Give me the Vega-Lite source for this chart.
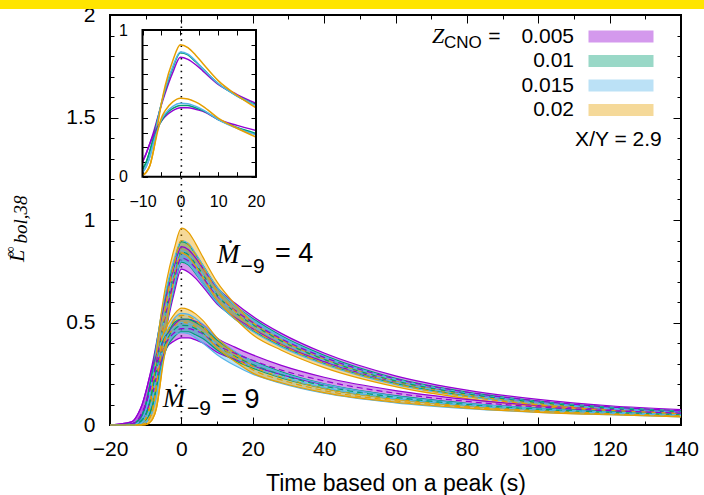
{
"$schema": "https://vega.github.io/schema/vega-lite/v6.json",
"width": 571, "height": 410,
"autosize": {"type": "none"},
"padding": {"left": 110, "top": 15, "right": 23, "bottom": 70},
"background": "white",
"config": {
  "view": {"stroke": "black", "strokeWidth": 2},
  "axis": {"domain": false, "grid": false, "labelFlush": false, "labelOverlap": false, "tickColor": "black", "tickWidth": 1, "labelColor": "black", "labelFont": "Liberation Sans", "labelFontSize": 21, "titleFont": "Liberation Sans", "titleFontSize": 23, "titleFontWeight": "normal", "titleColor": "black"}
},
"datasets": {"b": [
{"M":"4","Z":"0.005","t":-20,"lo":0,"mid":0,"hi":0},{"M":"4","Z":"0.005","t":-14,"lo":0,"mid":0.005,"hi":0.015},{"M":"4","Z":"0.005","t":-12,"lo":0.015,"mid":0.03,"hi":0.06},{"M":"4","Z":"0.005","t":-11,"lo":0.03,"mid":0.06,"hi":0.1},{"M":"4","Z":"0.005","t":-10,"lo":0.06,"mid":0.1,"hi":0.16},{"M":"4","Z":"0.005","t":-9,"lo":0.1,"mid":0.16,"hi":0.23},{"M":"4","Z":"0.005","t":-8,"lo":0.16,"mid":0.23,"hi":0.31},{"M":"4","Z":"0.005","t":-7,"lo":0.23,"mid":0.31,"hi":0.4},{"M":"4","Z":"0.005","t":-6,"lo":0.31,"mid":0.4,"hi":0.49},{"M":"4","Z":"0.005","t":-5,"lo":0.4,"mid":0.49,"hi":0.57},{"M":"4","Z":"0.005","t":-4,"lo":0.49,"mid":0.57,"hi":0.645},{"M":"4","Z":"0.005","t":-2,"lo":0.645,"mid":0.71,"hi":0.77},{"M":"4","Z":"0.005","t":0,"lo":0.76,"mid":0.815,"hi":0.87},{"M":"4","Z":"0.005","t":2,"lo":0.745,"mid":0.8,"hi":0.855},{"M":"4","Z":"0.005","t":4,"lo":0.715,"mid":0.765,"hi":0.815},{"M":"4","Z":"0.005","t":6,"lo":0.675,"mid":0.72,"hi":0.765},{"M":"4","Z":"0.005","t":10,"lo":0.59,"mid":0.63,"hi":0.67},{"M":"4","Z":"0.005","t":15,"lo":0.525,"mid":0.56,"hi":0.595},{"M":"4","Z":"0.005","t":20,"lo":0.47,"mid":0.5,"hi":0.53},{"M":"4","Z":"0.005","t":28,"lo":0.393,"mid":0.42,"hi":0.447},{"M":"4","Z":"0.005","t":40,"lo":0.309,"mid":0.33,"hi":0.351},{"M":"4","Z":"0.005","t":60,"lo":0.21,"mid":0.225,"hi":0.24},{"M":"4","Z":"0.005","t":80,"lo":0.15,"mid":0.16,"hi":0.17},{"M":"4","Z":"0.005","t":100,"lo":0.109,"mid":0.117,"hi":0.125},{"M":"4","Z":"0.005","t":120,"lo":0.082,"mid":0.088,"hi":0.094},{"M":"4","Z":"0.005","t":140,"lo":0.065,"mid":0.07,"hi":0.075},
{"M":"4","Z":"0.01","t":-20,"lo":0,"mid":0,"hi":0},{"M":"4","Z":"0.01","t":-14,"lo":0,"mid":0,"hi":0.004},{"M":"4","Z":"0.01","t":-12,"lo":0.004,"mid":0.01,"hi":0.025},{"M":"4","Z":"0.01","t":-11,"lo":0.01,"mid":0.025,"hi":0.05},{"M":"4","Z":"0.01","t":-10,"lo":0.025,"mid":0.05,"hi":0.1},{"M":"4","Z":"0.01","t":-9,"lo":0.05,"mid":0.1,"hi":0.18},{"M":"4","Z":"0.01","t":-8,"lo":0.1,"mid":0.18,"hi":0.28},{"M":"4","Z":"0.01","t":-7,"lo":0.18,"mid":0.28,"hi":0.39},{"M":"4","Z":"0.01","t":-6,"lo":0.28,"mid":0.39,"hi":0.5},{"M":"4","Z":"0.01","t":-5,"lo":0.39,"mid":0.5,"hi":0.59},{"M":"4","Z":"0.01","t":-4,"lo":0.5,"mid":0.59,"hi":0.67},{"M":"4","Z":"0.01","t":-2,"lo":0.67,"mid":0.74,"hi":0.8},{"M":"4","Z":"0.01","t":0,"lo":0.795,"mid":0.845,"hi":0.895},{"M":"4","Z":"0.01","t":2,"lo":0.78,"mid":0.83,"hi":0.88},{"M":"4","Z":"0.01","t":4,"lo":0.738,"mid":0.785,"hi":0.832},{"M":"4","Z":"0.01","t":6,"lo":0.69,"mid":0.735,"hi":0.78},{"M":"4","Z":"0.01","t":10,"lo":0.597,"mid":0.635,"hi":0.673},{"M":"4","Z":"0.01","t":15,"lo":0.517,"mid":0.55,"hi":0.583},{"M":"4","Z":"0.01","t":20,"lo":0.46,"mid":0.49,"hi":0.52},{"M":"4","Z":"0.01","t":28,"lo":0.385,"mid":0.41,"hi":0.435},{"M":"4","Z":"0.01","t":40,"lo":0.3,"mid":0.32,"hi":0.34},{"M":"4","Z":"0.01","t":60,"lo":0.202,"mid":0.215,"hi":0.228},{"M":"4","Z":"0.01","t":80,"lo":0.143,"mid":0.152,"hi":0.161},{"M":"4","Z":"0.01","t":100,"lo":0.103,"mid":0.11,"hi":0.117},{"M":"4","Z":"0.01","t":120,"lo":0.077,"mid":0.082,"hi":0.087},{"M":"4","Z":"0.01","t":140,"lo":0.06,"mid":0.064,"hi":0.068},
{"M":"4","Z":"0.015","t":-20,"lo":0,"mid":0,"hi":0},{"M":"4","Z":"0.015","t":-14,"lo":0,"mid":0,"hi":0},{"M":"4","Z":"0.015","t":-12,"lo":0,"mid":0.003,"hi":0.012},{"M":"4","Z":"0.015","t":-11,"lo":0.003,"mid":0.012,"hi":0.03},{"M":"4","Z":"0.015","t":-10,"lo":0.012,"mid":0.03,"hi":0.07},{"M":"4","Z":"0.015","t":-9,"lo":0.03,"mid":0.07,"hi":0.14},{"M":"4","Z":"0.015","t":-8,"lo":0.07,"mid":0.14,"hi":0.25},{"M":"4","Z":"0.015","t":-7,"lo":0.14,"mid":0.25,"hi":0.38},{"M":"4","Z":"0.015","t":-6,"lo":0.25,"mid":0.38,"hi":0.5},{"M":"4","Z":"0.015","t":-5,"lo":0.38,"mid":0.5,"hi":0.6},{"M":"4","Z":"0.015","t":-4,"lo":0.5,"mid":0.6,"hi":0.68},{"M":"4","Z":"0.015","t":-2,"lo":0.68,"mid":0.75,"hi":0.81},{"M":"4","Z":"0.015","t":0,"lo":0.8,"mid":0.85,"hi":0.9},{"M":"4","Z":"0.015","t":2,"lo":0.785,"mid":0.835,"hi":0.885},{"M":"4","Z":"0.015","t":4,"lo":0.743,"mid":0.79,"hi":0.837},{"M":"4","Z":"0.015","t":6,"lo":0.69,"mid":0.735,"hi":0.78},{"M":"4","Z":"0.015","t":10,"lo":0.597,"mid":0.635,"hi":0.673},{"M":"4","Z":"0.015","t":15,"lo":0.517,"mid":0.55,"hi":0.583},{"M":"4","Z":"0.015","t":20,"lo":0.456,"mid":0.485,"hi":0.514},{"M":"4","Z":"0.015","t":28,"lo":0.38,"mid":0.405,"hi":0.43},{"M":"4","Z":"0.015","t":40,"lo":0.296,"mid":0.315,"hi":0.334},{"M":"4","Z":"0.015","t":60,"lo":0.197,"mid":0.21,"hi":0.223},{"M":"4","Z":"0.015","t":80,"lo":0.138,"mid":0.147,"hi":0.156},{"M":"4","Z":"0.015","t":100,"lo":0.1,"mid":0.106,"hi":0.112},{"M":"4","Z":"0.015","t":120,"lo":0.074,"mid":0.079,"hi":0.084},{"M":"4","Z":"0.015","t":140,"lo":0.057,"mid":0.061,"hi":0.065},
{"M":"4","Z":"0.02","t":-20,"lo":0,"mid":0,"hi":0},{"M":"4","Z":"0.02","t":-14,"lo":0,"mid":0,"hi":0},{"M":"4","Z":"0.02","t":-12,"lo":0,"mid":0,"hi":0.002},{"M":"4","Z":"0.02","t":-11,"lo":0,"mid":0.002,"hi":0.01},{"M":"4","Z":"0.02","t":-10,"lo":0.002,"mid":0.01,"hi":0.03},{"M":"4","Z":"0.02","t":-9,"lo":0.01,"mid":0.03,"hi":0.08},{"M":"4","Z":"0.02","t":-8,"lo":0.03,"mid":0.08,"hi":0.19},{"M":"4","Z":"0.02","t":-7,"lo":0.08,"mid":0.19,"hi":0.35},{"M":"4","Z":"0.02","t":-6,"lo":0.19,"mid":0.35,"hi":0.5},{"M":"4","Z":"0.02","t":-5,"lo":0.35,"mid":0.5,"hi":0.62},{"M":"4","Z":"0.02","t":-4,"lo":0.5,"mid":0.62,"hi":0.715},{"M":"4","Z":"0.02","t":-2,"lo":0.715,"mid":0.79,"hi":0.86},{"M":"4","Z":"0.02","t":0,"lo":0.84,"mid":0.9,"hi":0.96},{"M":"4","Z":"0.02","t":2,"lo":0.82,"mid":0.88,"hi":0.94},{"M":"4","Z":"0.02","t":4,"lo":0.775,"mid":0.83,"hi":0.885},{"M":"4","Z":"0.02","t":6,"lo":0.72,"mid":0.77,"hi":0.82},{"M":"4","Z":"0.02","t":10,"lo":0.612,"mid":0.655,"hi":0.698},{"M":"4","Z":"0.02","t":15,"lo":0.52,"mid":0.555,"hi":0.59},{"M":"4","Z":"0.02","t":20,"lo":0.44,"mid":0.47,"hi":0.5},{"M":"4","Z":"0.02","t":28,"lo":0.365,"mid":0.39,"hi":0.415},{"M":"4","Z":"0.02","t":40,"lo":0.28,"mid":0.3,"hi":0.32},{"M":"4","Z":"0.02","t":60,"lo":0.187,"mid":0.2,"hi":0.213},{"M":"4","Z":"0.02","t":80,"lo":0.129,"mid":0.138,"hi":0.147},{"M":"4","Z":"0.02","t":100,"lo":0.092,"mid":0.098,"hi":0.104},{"M":"4","Z":"0.02","t":120,"lo":0.067,"mid":0.072,"hi":0.077},{"M":"4","Z":"0.02","t":140,"lo":0.051,"mid":0.055,"hi":0.059},
{"M":"9","Z":"0.005","t":-20,"lo":0,"mid":0,"hi":0},{"M":"9","Z":"0.005","t":-14,"lo":0,"mid":0.005,"hi":0.015},{"M":"9","Z":"0.005","t":-12,"lo":0.015,"mid":0.03,"hi":0.06},{"M":"9","Z":"0.005","t":-11,"lo":0.03,"mid":0.06,"hi":0.1},{"M":"9","Z":"0.005","t":-10,"lo":0.06,"mid":0.1,"hi":0.16},{"M":"9","Z":"0.005","t":-9,"lo":0.1,"mid":0.16,"hi":0.23},{"M":"9","Z":"0.005","t":-8,"lo":0.16,"mid":0.23,"hi":0.29},{"M":"9","Z":"0.005","t":-7,"lo":0.23,"mid":0.29,"hi":0.34},{"M":"9","Z":"0.005","t":-6,"lo":0.29,"mid":0.34,"hi":0.38},{"M":"9","Z":"0.005","t":-5,"lo":0.34,"mid":0.38,"hi":0.41},{"M":"9","Z":"0.005","t":-4,"lo":0.38,"mid":0.41,"hi":0.44},{"M":"9","Z":"0.005","t":-2,"lo":0.41,"mid":0.45,"hi":0.49},{"M":"9","Z":"0.005","t":0,"lo":0.425,"mid":0.47,"hi":0.515},{"M":"9","Z":"0.005","t":2,"lo":0.425,"mid":0.47,"hi":0.515},{"M":"9","Z":"0.005","t":4,"lo":0.415,"mid":0.46,"hi":0.505},{"M":"9","Z":"0.005","t":6,"lo":0.4,"mid":0.445,"hi":0.49},{"M":"9","Z":"0.005","t":10,"lo":0.355,"mid":0.39,"hi":0.425},{"M":"9","Z":"0.005","t":15,"lo":0.32,"mid":0.35,"hi":0.38},{"M":"9","Z":"0.005","t":20,"lo":0.288,"mid":0.315,"hi":0.342},{"M":"9","Z":"0.005","t":28,"lo":0.245,"mid":0.268,"hi":0.291},{"M":"9","Z":"0.005","t":40,"lo":0.197,"mid":0.215,"hi":0.233},{"M":"9","Z":"0.005","t":60,"lo":0.142,"mid":0.155,"hi":0.168},{"M":"9","Z":"0.005","t":80,"lo":0.105,"mid":0.115,"hi":0.125},{"M":"9","Z":"0.005","t":100,"lo":0.081,"mid":0.088,"hi":0.095},{"M":"9","Z":"0.005","t":120,"lo":0.064,"mid":0.07,"hi":0.076},{"M":"9","Z":"0.005","t":140,"lo":0.053,"mid":0.058,"hi":0.063},
{"M":"9","Z":"0.01","t":-20,"lo":0,"mid":0,"hi":0},{"M":"9","Z":"0.01","t":-14,"lo":0,"mid":0,"hi":0.004},{"M":"9","Z":"0.01","t":-12,"lo":0.004,"mid":0.01,"hi":0.025},{"M":"9","Z":"0.01","t":-11,"lo":0.01,"mid":0.025,"hi":0.05},{"M":"9","Z":"0.01","t":-10,"lo":0.025,"mid":0.05,"hi":0.1},{"M":"9","Z":"0.01","t":-9,"lo":0.05,"mid":0.1,"hi":0.18},{"M":"9","Z":"0.01","t":-8,"lo":0.1,"mid":0.18,"hi":0.26},{"M":"9","Z":"0.01","t":-7,"lo":0.18,"mid":0.26,"hi":0.33},{"M":"9","Z":"0.01","t":-6,"lo":0.26,"mid":0.33,"hi":0.38},{"M":"9","Z":"0.01","t":-5,"lo":0.33,"mid":0.38,"hi":0.42},{"M":"9","Z":"0.01","t":-4,"lo":0.38,"mid":0.42,"hi":0.445},{"M":"9","Z":"0.01","t":-2,"lo":0.43,"mid":0.465,"hi":0.5},{"M":"9","Z":"0.01","t":0,"lo":0.455,"mid":0.486,"hi":0.517},{"M":"9","Z":"0.01","t":2,"lo":0.455,"mid":0.485,"hi":0.515},{"M":"9","Z":"0.01","t":4,"lo":0.44,"mid":0.47,"hi":0.5},{"M":"9","Z":"0.01","t":6,"lo":0.422,"mid":0.45,"hi":0.478},{"M":"9","Z":"0.01","t":10,"lo":0.366,"mid":0.39,"hi":0.414},{"M":"9","Z":"0.01","t":15,"lo":0.315,"mid":0.335,"hi":0.355},{"M":"9","Z":"0.01","t":20,"lo":0.277,"mid":0.295,"hi":0.313},{"M":"9","Z":"0.01","t":28,"lo":0.23,"mid":0.245,"hi":0.26},{"M":"9","Z":"0.01","t":40,"lo":0.179,"mid":0.19,"hi":0.201},{"M":"9","Z":"0.01","t":60,"lo":0.127,"mid":0.135,"hi":0.143},{"M":"9","Z":"0.01","t":80,"lo":0.094,"mid":0.1,"hi":0.106},{"M":"9","Z":"0.01","t":100,"lo":0.072,"mid":0.077,"hi":0.082},{"M":"9","Z":"0.01","t":120,"lo":0.058,"mid":0.062,"hi":0.066},{"M":"9","Z":"0.01","t":140,"lo":0.047,"mid":0.05,"hi":0.053},
{"M":"9","Z":"0.015","t":-20,"lo":0,"mid":0,"hi":0},{"M":"9","Z":"0.015","t":-14,"lo":0,"mid":0,"hi":0},{"M":"9","Z":"0.015","t":-12,"lo":0,"mid":0.003,"hi":0.012},{"M":"9","Z":"0.015","t":-11,"lo":0.003,"mid":0.012,"hi":0.03},{"M":"9","Z":"0.015","t":-10,"lo":0.012,"mid":0.03,"hi":0.07},{"M":"9","Z":"0.015","t":-9,"lo":0.03,"mid":0.07,"hi":0.14},{"M":"9","Z":"0.015","t":-8,"lo":0.07,"mid":0.14,"hi":0.24},{"M":"9","Z":"0.015","t":-7,"lo":0.14,"mid":0.24,"hi":0.32},{"M":"9","Z":"0.015","t":-6,"lo":0.24,"mid":0.32,"hi":0.39},{"M":"9","Z":"0.015","t":-5,"lo":0.32,"mid":0.39,"hi":0.43},{"M":"9","Z":"0.015","t":-4,"lo":0.39,"mid":0.43,"hi":0.46},{"M":"9","Z":"0.015","t":-2,"lo":0.44,"mid":0.48,"hi":0.52},{"M":"9","Z":"0.015","t":0,"lo":0.45,"mid":0.5,"hi":0.545},{"M":"9","Z":"0.015","t":2,"lo":0.445,"mid":0.497,"hi":0.54},{"M":"9","Z":"0.015","t":4,"lo":0.425,"mid":0.48,"hi":0.52},{"M":"9","Z":"0.015","t":6,"lo":0.4,"mid":0.455,"hi":0.492},{"M":"9","Z":"0.015","t":10,"lo":0.343,"mid":0.39,"hi":0.423},{"M":"9","Z":"0.015","t":15,"lo":0.29,"mid":0.33,"hi":0.358},{"M":"9","Z":"0.015","t":20,"lo":0.248,"mid":0.285,"hi":0.31},{"M":"9","Z":"0.015","t":28,"lo":0.203,"mid":0.235,"hi":0.255},{"M":"9","Z":"0.015","t":40,"lo":0.155,"mid":0.182,"hi":0.199},{"M":"9","Z":"0.015","t":60,"lo":0.108,"mid":0.128,"hi":0.14},{"M":"9","Z":"0.015","t":80,"lo":0.08,"mid":0.095,"hi":0.104},{"M":"9","Z":"0.015","t":100,"lo":0.062,"mid":0.073,"hi":0.08},{"M":"9","Z":"0.015","t":120,"lo":0.05,"mid":0.058,"hi":0.063},{"M":"9","Z":"0.015","t":140,"lo":0.04,"mid":0.047,"hi":0.051},
{"M":"9","Z":"0.02","t":-20,"lo":0,"mid":0,"hi":0},{"M":"9","Z":"0.02","t":-14,"lo":0,"mid":0,"hi":0},{"M":"9","Z":"0.02","t":-12,"lo":0,"mid":0,"hi":0.002},{"M":"9","Z":"0.02","t":-11,"lo":0,"mid":0.002,"hi":0.01},{"M":"9","Z":"0.02","t":-10,"lo":0.002,"mid":0.01,"hi":0.03},{"M":"9","Z":"0.02","t":-9,"lo":0.01,"mid":0.03,"hi":0.08},{"M":"9","Z":"0.02","t":-8,"lo":0.03,"mid":0.08,"hi":0.19},{"M":"9","Z":"0.02","t":-7,"lo":0.08,"mid":0.19,"hi":0.31},{"M":"9","Z":"0.02","t":-6,"lo":0.19,"mid":0.31,"hi":0.4},{"M":"9","Z":"0.02","t":-5,"lo":0.31,"mid":0.4,"hi":0.45},{"M":"9","Z":"0.02","t":-4,"lo":0.4,"mid":0.45,"hi":0.485},{"M":"9","Z":"0.02","t":-2,"lo":0.48,"mid":0.51,"hi":0.54},{"M":"9","Z":"0.02","t":0,"lo":0.5,"mid":0.535,"hi":0.57},{"M":"9","Z":"0.02","t":2,"lo":0.497,"mid":0.53,"hi":0.563},{"M":"9","Z":"0.02","t":4,"lo":0.478,"mid":0.51,"hi":0.542},{"M":"9","Z":"0.02","t":6,"lo":0.45,"mid":0.48,"hi":0.51},{"M":"9","Z":"0.02","t":10,"lo":0.375,"mid":0.4,"hi":0.425},{"M":"9","Z":"0.02","t":15,"lo":0.31,"mid":0.33,"hi":0.35},{"M":"9","Z":"0.02","t":20,"lo":0.253,"mid":0.27,"hi":0.287},{"M":"9","Z":"0.02","t":28,"lo":0.206,"mid":0.22,"hi":0.234},{"M":"9","Z":"0.02","t":40,"lo":0.158,"mid":0.168,"hi":0.178},{"M":"9","Z":"0.02","t":60,"lo":0.111,"mid":0.118,"hi":0.125},{"M":"9","Z":"0.02","t":80,"lo":0.082,"mid":0.087,"hi":0.092},{"M":"9","Z":"0.02","t":100,"lo":0.062,"mid":0.066,"hi":0.07},{"M":"9","Z":"0.02","t":120,"lo":0.05,"mid":0.053,"hi":0.056},{"M":"9","Z":"0.02","t":140,"lo":0.04,"mid":0.043,"hi":0.046}
]},
"layer": [
{
 "layer": [
  {"data": {"values": [{}]}, "mark": {"type": "rect", "color": "#FFE500"},
   "encoding": {
    "x": {"datum": -51, "type": "quantitative", "scale": {"domain": [-20, 140], "nice": false, "zero": false}, "axis": null},
    "x2": {"datum": 147},
    "y": {"datum": 2.08, "type": "quantitative", "scale": {"domain": [0, 2], "nice": false, "zero": false}, "axis": null},
    "y2": {"datum": 2.029}}},
  {"data": {"values": [{}]}, "mark": {"type": "rule", "strokeDash": [1.5, 4.8], "strokeWidth": 1.6, "color": "black"},
   "encoding": {
    "x": {"datum": 0, "type": "quantitative", "scale": {"domain": [-20, 140], "nice": false, "zero": false},
      "axis": {"orient": "top", "values": [-20,-10,0,10,20,30,40,50,60,70,80,90,100,110,120,130,140], "labels": false, "title": null,
        "tickSize": {"condition": {"test": "datum.value % 20 != 0", "value": -4}, "value": -8}}},
    "y": {"datum": 0, "type": "quantitative", "scale": {"domain": [0, 2], "nice": false, "zero": false},
      "axis": {"orient": "right", "values": [0,0.1,0.2,0.3,0.4,0.5,0.6,0.7,0.8,0.9,1,1.1,1.2,1.3,1.4,1.5,1.6,1.7,1.8,1.9,2], "labels": false, "title": null,
        "tickSize": {"condition": {"test": "indexof([0,0.5,1,1.5,2], datum.value) < 0", "value": -4}, "value": -8}}},
    "y2": {"datum": 2}}},
  {"data": {"name": "b"}, "mark": {"type": "area", "interpolate": "monotone", "fillOpacity": 0.4},
   "encoding": {
    "x": {"field": "t", "type": "quantitative", "scale": {"domain": [-20, 140], "nice": false, "zero": false},
      "axis": {"orient": "bottom", "values": [-20,-10,0,10,20,30,40,50,60,70,80,90,100,110,120,130,140],
        "labelExpr": "datum.value % 20 == 0 ? format(datum.value, 'd') : ''", "labelPadding": 21,
        "tickSize": {"condition": {"test": "datum.value % 20 != 0", "value": -4}, "value": -8},
        "title": "Time based on a peak (s)", "titlePadding": 9}},
    "y": {"field": "lo", "type": "quantitative", "scale": {"domain": [0, 2], "nice": false, "zero": false},
      "axis": {"orient": "left", "values": [0,0.1,0.2,0.3,0.4,0.5,0.6,0.7,0.8,0.9,1,1.1,1.2,1.3,1.4,1.5,1.6,1.7,1.8,1.9,2],
        "labelExpr": "indexof([0,0.5,1,1.5,2], datum.value) >= 0 ? format(datum.value, '~g') : ''", "labelPadding": 23,
        "tickSize": {"condition": {"test": "indexof([0,0.5,1,1.5,2], datum.value) < 0", "value": -4}, "value": -8},
        "title": null}},
    "y2": {"field": "hi"},
    "fill": {"field": "Z", "type": "nominal", "sort": null,
      "scale": {"domain": ["0.005", "0.01", "0.015", "0.02"], "range": ["#9400D3", "#009E73", "#56B4E9", "#E69F00"]},
      "legend": {"title": null, "orient": "none", "legendX": 500.5, "legendY": 11, "symbolType": "M-3.25,-0.6H3.25V0.6H-3.25Z", "symbolSize": 400, "symbolOpacity": 0.4, "symbolStrokeWidth": 0, "labelAlign": "right", "labelOffset": -57.5, "labelFont": "Liberation Sans", "labelFontSize": 21, "labelColor": "black", "rowPadding": 2.5}},
    "detail": {"field": "M"}}},
  {"data": {"name": "b"}, "mark": {"type": "line", "interpolate": "monotone", "strokeWidth": 1.2},
   "encoding": {
    "x": {"field": "t", "type": "quantitative", "scale": {"domain": [-20, 140], "nice": false, "zero": false}, "axis": null},
    "y": {"field": "lo", "type": "quantitative", "scale": {"domain": [0, 2], "nice": false, "zero": false}, "axis": null},
    "stroke": {"field": "Z", "type": "nominal", "scale": {"domain": ["0.005", "0.01", "0.015", "0.02"], "range": ["#9400D3", "#009E73", "#56B4E9", "#E69F00"]}, "legend": null},
    "detail": {"field": "M"}}},
  {"data": {"name": "b"}, "mark": {"type": "line", "interpolate": "monotone", "strokeWidth": 1.2},
   "encoding": {
    "x": {"field": "t", "type": "quantitative", "scale": {"domain": [-20, 140], "nice": false, "zero": false}, "axis": null},
    "y": {"field": "hi", "type": "quantitative", "scale": {"domain": [0, 2], "nice": false, "zero": false}, "axis": null},
    "stroke": {"field": "Z", "type": "nominal", "legend": null},
    "detail": {"field": "M"}}},
  {"data": {"name": "b"}, "mark": {"type": "line", "interpolate": "monotone", "strokeWidth": 1.2, "strokeDash": [6, 4]},
   "encoding": {
    "x": {"field": "t", "type": "quantitative", "scale": {"domain": [-20, 140], "nice": false, "zero": false}, "axis": null},
    "y": {"field": "mid", "type": "quantitative", "scale": {"domain": [0, 2], "nice": false, "zero": false}, "axis": null},
    "stroke": {"field": "Z", "type": "nominal", "legend": null},
    "detail": {"field": "M"}}},
  {"data": {"values": [{}]}, "mark": {"type": "text", "text": "Ṁ", "font": "Liberation Serif", "fontStyle": "italic", "fontSize": 27, "align": "left", "baseline": "alphabetic", "color": "black"},
   "encoding": {"x": {"datum": 10, "type": "quantitative", "scale": {"domain": [-20, 140], "nice": false, "zero": false}, "axis": null}, "y": {"datum": 0.79, "type": "quantitative", "scale": {"domain": [0, 2], "nice": false, "zero": false}, "axis": null}}},
  {"data": {"values": [{}]}, "mark": {"type": "text", "text": "−9", "font": "Liberation Sans", "fontSize": 21, "align": "left", "baseline": "alphabetic", "color": "black"},
   "encoding": {"x": {"datum": 16.6, "type": "quantitative", "scale": {"domain": [-20, 140], "nice": false, "zero": false}, "axis": null}, "y": {"datum": 0.741, "type": "quantitative", "scale": {"domain": [0, 2], "nice": false, "zero": false}, "axis": null}}},
  {"data": {"values": [{}]}, "mark": {"type": "text", "text": "= 4", "font": "Liberation Sans", "fontSize": 27, "align": "left", "baseline": "alphabetic", "color": "black"},
   "encoding": {"x": {"datum": 26.2, "type": "quantitative", "scale": {"domain": [-20, 140], "nice": false, "zero": false}, "axis": null}, "y": {"datum": 0.795, "type": "quantitative", "scale": {"domain": [0, 2], "nice": false, "zero": false}, "axis": null}}},
  {"data": {"values": [{}]}, "mark": {"type": "text", "text": "Ṁ", "font": "Liberation Serif", "fontStyle": "italic", "fontSize": 27, "align": "left", "baseline": "alphabetic", "color": "black"},
   "encoding": {"x": {"datum": -5.2, "type": "quantitative", "scale": {"domain": [-20, 140], "nice": false, "zero": false}, "axis": null}, "y": {"datum": 0.088, "type": "quantitative", "scale": {"domain": [0, 2], "nice": false, "zero": false}, "axis": null}}},
  {"data": {"values": [{}]}, "mark": {"type": "text", "text": "−9", "font": "Liberation Sans", "fontSize": 21, "align": "left", "baseline": "alphabetic", "color": "black"},
   "encoding": {"x": {"datum": 1.6, "type": "quantitative", "scale": {"domain": [-20, 140], "nice": false, "zero": false}, "axis": null}, "y": {"datum": 0.049, "type": "quantitative", "scale": {"domain": [0, 2], "nice": false, "zero": false}, "axis": null}}},
  {"data": {"values": [{}]}, "mark": {"type": "text", "text": "= 9", "font": "Liberation Sans", "fontSize": 27, "align": "left", "baseline": "alphabetic", "color": "black"},
   "encoding": {"x": {"datum": 11.2, "type": "quantitative", "scale": {"domain": [-20, 140], "nice": false, "zero": false}, "axis": null}, "y": {"datum": 0.083, "type": "quantitative", "scale": {"domain": [0, 2], "nice": false, "zero": false}, "axis": null}}},
  {"data": {"values": [{}]}, "mark": {"type": "text", "text": "Z", "font": "Liberation Serif", "fontStyle": "italic", "fontSize": 22, "align": "left", "baseline": "alphabetic", "color": "black"},
   "encoding": {"x": {"datum": 70.2, "type": "quantitative", "scale": {"domain": [-20, 140], "nice": false, "zero": false}, "axis": null}, "y": {"datum": 1.863, "type": "quantitative", "scale": {"domain": [0, 2], "nice": false, "zero": false}, "axis": null}}},
  {"data": {"values": [{}]}, "mark": {"type": "text", "text": "CNO", "font": "Liberation Sans", "fontSize": 17, "align": "left", "baseline": "alphabetic", "color": "black"},
   "encoding": {"x": {"datum": 73.6, "type": "quantitative", "scale": {"domain": [-20, 140], "nice": false, "zero": false}, "axis": null}, "y": {"datum": 1.839, "type": "quantitative", "scale": {"domain": [0, 2], "nice": false, "zero": false}, "axis": null}}},
  {"data": {"values": [{}]}, "mark": {"type": "text", "text": "=", "font": "Liberation Sans", "fontSize": 21, "align": "left", "baseline": "alphabetic", "color": "black"},
   "encoding": {"x": {"datum": 86, "type": "quantitative", "scale": {"domain": [-20, 140], "nice": false, "zero": false}, "axis": null}, "y": {"datum": 1.865, "type": "quantitative", "scale": {"domain": [0, 2], "nice": false, "zero": false}, "axis": null}}},
  {"data": {"values": [{}]}, "mark": {"type": "text", "text": "X/Y = 2.9", "font": "Liberation Sans", "fontSize": 21, "align": "right", "baseline": "alphabetic", "color": "black"},
   "encoding": {"x": {"datum": 134.6, "type": "quantitative", "scale": {"domain": [-20, 140], "nice": false, "zero": false}, "axis": null}, "y": {"datum": 1.361, "type": "quantitative", "scale": {"domain": [0, 2], "nice": false, "zero": false}, "axis": null}}},
  {"data": {"values": [{}]}, "mark": {"type": "text", "text": "L", "font": "Liberation Serif", "fontStyle": "italic", "fontSize": 22, "angle": 270, "align": "left", "baseline": "alphabetic", "color": "black"},
   "encoding": {"x": {"datum": -44.2, "type": "quantitative", "scale": {"domain": [-20, 140], "nice": false, "zero": false}, "axis": null}, "y": {"datum": 0.795, "type": "quantitative", "scale": {"domain": [0, 2], "nice": false, "zero": false}, "axis": null}}},
  {"data": {"values": [{}]}, "mark": {"type": "text", "text": "∞", "font": "Liberation Serif", "fontSize": 15, "angle": 270, "align": "left", "baseline": "alphabetic", "color": "black"},
   "encoding": {"x": {"datum": -46.6, "type": "quantitative", "scale": {"domain": [-20, 140], "nice": false, "zero": false}, "axis": null}, "y": {"datum": 0.82, "type": "quantitative", "scale": {"domain": [0, 2], "nice": false, "zero": false}, "axis": null}}},
  {"data": {"values": [{}]}, "mark": {"type": "text", "text": "bol,38", "font": "Liberation Serif", "fontStyle": "italic", "fontSize": 19, "angle": 270, "align": "left", "baseline": "alphabetic", "color": "black"},
   "encoding": {"x": {"datum": -43.2, "type": "quantitative", "scale": {"domain": [-20, 140], "nice": false, "zero": false}, "axis": null}, "y": {"datum": 0.885, "type": "quantitative", "scale": {"domain": [0, 2], "nice": false, "zero": false}, "axis": null}}}
 ],
 "resolve": {"axis": {"x": "independent", "y": "independent"}}
},
{
 "layer": [
  {"data": {"name": "b"}, "transform": [{"filter": "datum.t >= -10 && datum.t <= 20"}],
   "mark": {"type": "line", "interpolate": "monotone", "strokeWidth": 1.5},
   "encoding": {
    "x": {"field": "t", "type": "quantitative", "scale": {"domain": [-10, 20], "range": [32.5, 146], "nice": false, "zero": false},
      "axis": {"orient": "bottom", "offset": -248.3, "values": [-10,-5,0,5,10,15,20], "labelExpr": "datum.value % 10 == 0 ? format(datum.value, 'd') : ''", "labelFontSize": 16, "labelPadding": 22, "tickSize": -5, "title": null}},
    "y": {"field": "mid", "type": "quantitative", "scale": {"domain": [0, 1], "range": [161.7, 15], "nice": false, "zero": false},
      "axis": {"orient": "left", "offset": -32.5, "values": [0,0.1,0.2,0.3,0.4,0.5,0.6,0.7,0.8,0.9,1], "labelExpr": "datum.value == 0 || datum.value == 1 ? format(datum.value, 'd') : ''", "labelFontSize": 16, "labelPadding": 20, "tickSize": -5, "title": null}},
    "stroke": {"field": "Z", "type": "nominal", "legend": null},
    "detail": {"field": "M"}}},
  {"data": {"values": [{}]}, "mark": {"type": "rect", "filled": false, "stroke": "black", "strokeWidth": 2},
   "encoding": {
    "x": {"datum": -10, "type": "quantitative", "scale": {"domain": [-10, 20], "range": [32.5, 146], "nice": false, "zero": false},
      "axis": {"orient": "top", "offset": -15, "values": [-10,-5,0,5,10,15,20], "labels": false, "tickSize": -5, "title": null}},
    "x2": {"datum": 20},
    "y": {"datum": 0, "type": "quantitative", "scale": {"domain": [0, 1], "range": [161.7, 15], "nice": false, "zero": false},
      "axis": {"orient": "right", "offset": -425, "values": [0,0.1,0.2,0.3,0.4,0.5,0.6,0.7,0.8,0.9,1], "labels": false, "tickSize": -5, "title": null}},
    "y2": {"datum": 1}}}
 ],
 "resolve": {"axis": {"x": "independent", "y": "independent"}}
}
],
"resolve": {"scale": {"x": "independent", "y": "independent"}}
}
